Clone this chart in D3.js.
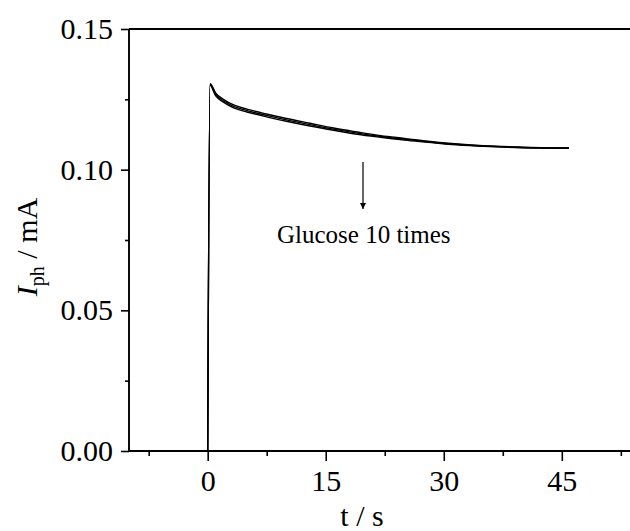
<!DOCTYPE html>
<html><head><meta charset="utf-8">
<script src="https://cdn.jsdelivr.net/npm/d3@7"></script>
<style>body{margin:0;background:#fff}svg{display:block}</style>
</head><body>
<script>
// Data
const times       = [0, 0.3, 1, 2, 3.3, 5, 7.6, 10, 13, 16, 19, 22, 25, 28, 31, 35, 40, 45.9];
const seriesUpper = [0, 0.1306, 0.1273, 0.1250, 0.1230, 0.1215, 0.1197, 0.1182, 0.1165, 0.1148, 0.1134, 0.1121, 0.1111, 0.1101, 0.1093, 0.1085, 0.1080, 0.1077];
const seriesMid   = [0, 0.1303, 0.1268, 0.1245, 0.1225, 0.1210, 0.1192, 0.1177, 0.1160, 0.1144, 0.1130, 0.1118, 0.1108, 0.1099, 0.1091, 0.1084, 0.1079, 0.1077];
const seriesLower = [0, 0.1300, 0.1263, 0.1240, 0.1220, 0.1205, 0.1187, 0.1172, 0.1155, 0.1140, 0.1126, 0.1115, 0.1105, 0.1097, 0.1089, 0.1083, 0.1078, 0.1076];
const allSeries = [seriesUpper, seriesMid, seriesLower];
const xTicks = [0, 15, 30, 45];
const xMinor = [-7.5, 7.5, 22.5, 37.5, 52.5];
const yTicks = [0, 0.05, 0.10, 0.15];
const yMinor = [0.025, 0.075, 0.125];
const annotation = "Glucose 10 times";

const W = 630, H = 531;
const svg = d3.select("body").append("svg").attr("width", W).attr("height", H);
const x = d3.scaleLinear().domain([-10, 55]).range([129, 640.5]);
const y = d3.scaleLinear().domain([0, 0.15]).range([451, 29]);
const font = "'Liberation Serif','Times New Roman',serif";

// lines
const line = d3.line().x((d, i) => x(times[i])).y(d => y(d)).curve(d3.curveMonotoneX);
allSeries.forEach(s => {
  svg.append("path").datum(s).attr("d", line)
    .attr("fill", "none").attr("stroke", "#000").attr("stroke-width", 1.4);
});

// axes
const ax = "#000";
const gx = svg.append("g").attr("transform", `translate(0,${y(0)})`)
  .call(d3.axisBottom(x).tickValues(xTicks).tickSize(10).tickPadding(9).tickFormat(d3.format("d")));
svg.append("g").attr("transform", `translate(0,${y(0)})`)
  .call(d3.axisBottom(x).tickValues(xMinor).tickSize(5).tickFormat(""))
  .call(g => g.select(".domain").remove());
const gy = svg.append("g").attr("transform", `translate(${x(-10)},0)`)
  .call(d3.axisLeft(y).tickValues(yTicks).tickSize(8).tickPadding(8).tickFormat(d3.format(".2f")));
svg.append("g").attr("transform", `translate(${x(-10)},0)`)
  .call(d3.axisLeft(y).tickValues(yMinor).tickSize(4).tickFormat(""))
  .call(g => g.select(".domain").remove());
svg.selectAll(".domain").attr("stroke", ax).attr("stroke-width", 1.9);
svg.selectAll(".tick line").attr("stroke", ax).attr("stroke-width", 1.6);
svg.selectAll(".tick text").attr("font-family", font).attr("font-size", 30).attr("fill", "#000");
gx.select(".domain").attr("d", `M${x(-10)},0H${x(55)}`);
gy.select(".domain").attr("d", `M0,${y(0)}V${y(0.15)}`);
svg.append("line").attr("x1", x(-10)).attr("x2", x(55)).attr("y1", y(0.15)).attr("y2", y(0.15))
  .attr("stroke", ax).attr("stroke-width", 1.9);

// axis titles
svg.append("text").attr("x", 362).attr("y", 526).attr("text-anchor", "middle")
  .attr("font-family", font).attr("font-size", 30).text("t / s");
const yt = svg.append("text").attr("transform", "translate(37,247) rotate(-90)")
  .attr("text-anchor", "middle").attr("font-family", font).attr("font-size", 30);
yt.append("tspan").attr("font-style", "italic").text("I");
yt.append("tspan").attr("font-size", 20).attr("dy", 7).text("ph");
yt.append("tspan").attr("dy", -7).text(" / mA");

// annotation
const defs = svg.append("defs");
defs.append("marker").attr("id", "ah").attr("viewBox", "0 0 10 10").attr("refX", 10).attr("refY", 5)
  .attr("markerWidth", 6).attr("markerHeight", 6).attr("markerUnits", "userSpaceOnUse").attr("orient", "auto")
  .append("path").attr("d", "M0,0L10,5L0,10Z").attr("fill", "#000");
svg.append("line").attr("x1", 363).attr("x2", 363).attr("y1", 162).attr("y2", 209)
  .attr("stroke", "#000").attr("stroke-width", 1.2).attr("marker-end", "url(#ah)");
svg.append("text").attr("x", 277).attr("y", 243).attr("font-family", font).attr("font-size", 25)
  .text(annotation);
</script>
</body></html>
